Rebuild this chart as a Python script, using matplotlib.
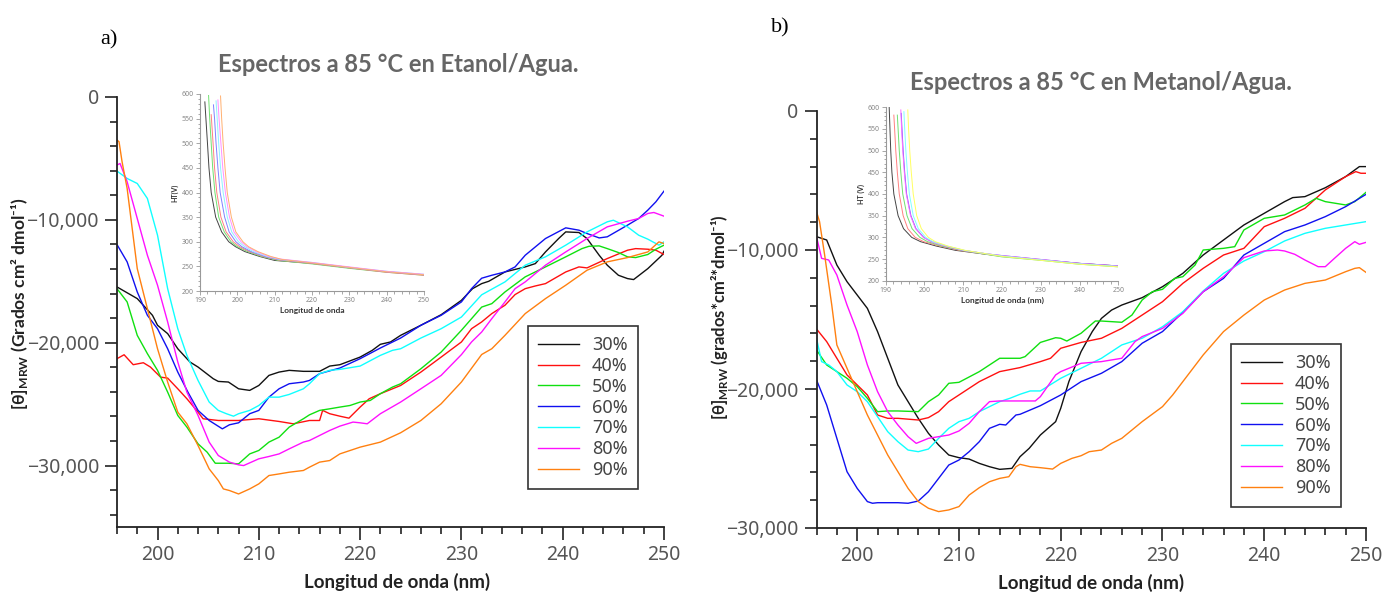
import matplotlib
matplotlib.use('Agg')
import matplotlib.pyplot as plt
from matplotlib.ticker import MultipleLocator, FuncFormatter

# ---------------- data: panel a (Etanol/Agua) ----------------
A30_X = [196, 198, 199.5, 200, 201, 202, 203.2, 204, 205.5, 206, 207, 208, 209.1, 210, 211, 212, 213, 214.4, 216, 217,
         218, 220, 221.2, 222, 223, 224, 226, 228, 230, 231.1, 232, 232.7, 234.3, 236.3, 237.3, 238.3, 239.6, 240.3,
         241.6, 242.4, 243.6, 244.4, 245.5, 246.4, 247, 248.4, 249.8, 250]
A30_Y = [-15460, -16410, -17770, -18580, -19260, -20490, -21570, -21980, -22930, -23150, -23200, -23750, -23880, -23480,
         -22660, -22390, -22250, -22330, -22330, -21900, -21790, -21170, -20620, -20130, -19940, -19400, -18580, -17720,
         -16550, -15600, -15190, -15000, -14240, -13830, -13560, -12610, -11520, -10980, -11030, -11520, -12880, -13690,
         -14510, -14780, -14860, -13970, -12880, -12550]
A40_X = [196, 196.7, 197.6, 198.6, 199.3, 200.3, 201, 202, 202.9, 204, 204.5, 206, 208, 210, 212, 213.4, 215, 216, 216.3,
         217, 218, 218.9, 220, 220.9, 222, 223.2, 224, 226, 228, 230, 231, 232, 233, 234.3, 235.3, 236.3, 237.3, 238.3,
         240.3, 241.6, 242.4, 244.4, 246.4, 247.2, 248.4, 249.2, 250]
A40_Y = [-21300, -20980, -21790, -21630, -21980, -22800, -22880, -23750, -24560, -25650, -26190, -26330, -26330, -26190,
         -26410, -26600, -26330, -26330, -25510, -25780, -25980, -26140, -25240, -24560, -24150, -23750, -23480, -22390,
         -21170, -19940, -18860, -18310, -17630, -16950, -16080, -15600, -15380, -15190, -14240, -13830, -13910, -13150,
         -12470, -12340, -12390, -12470, -12820]
A50_X = [196, 197, 198, 199, 200, 201, 202, 202.9, 204, 204.9, 205.7, 207, 208, 209.1, 210, 211, 212, 213, 214.4, 215,
         216, 217, 218, 219, 220, 221, 222, 223.2, 224, 226, 228, 230, 232, 233, 234.3, 236.3, 238.3, 240.3, 241.9,
         242.6, 243.6, 244.4, 245.5, 246.4, 247.2, 248.4, 249.2, 250]
A50_Y = [-15600, -16680, -19400, -20890, -22250, -24020, -25920, -26870, -28230, -28910, -29810, -29810, -29860, -29050,
         -28770, -28090, -27690, -26870, -26190, -25870, -25510, -25380, -25240, -25110, -24830, -24700, -24150, -23610,
         -23340, -22120, -20760, -18990, -17100, -16820, -15870, -14640, -13830, -13010, -12340, -12150, -12120, -12340,
         -12660, -13010, -13070, -12820, -12390, -12060]
A60_X = [196, 197, 198, 199, 200, 201, 202, 203, 204, 205.1, 206.4, 207.1, 208, 209.1, 210, 211, 212, 213, 214.4, 215,
         216, 218, 220, 222, 224, 226, 228, 230, 231, 232, 233, 234.3, 235.3, 236.3, 238.3, 240.3, 241.6, 242.4, 243.6,
         244.4, 246.4, 247.5, 248.4, 249.2, 250]
A60_Y = [-12010, -13420, -15870, -17770, -18860, -20490, -22390, -24020, -25510, -26330, -27010, -26680, -26520, -25780,
         -25510, -24430, -23750, -23340, -23200, -23070, -22520, -22060, -21300, -20430, -19620, -18580, -17770, -16680,
         -15600, -14750, -14510, -14240, -13830, -12880, -11520, -10650, -10840, -11110, -11470, -11380, -10430, -9890,
         -9210, -8530, -7660]
A70_X = [196, 197, 198, 199, 200, 201, 202, 202.9, 204, 205.1, 206, 206.8, 207.5, 208, 209.1, 210, 211, 212, 213, 214.4,
         215, 216, 217, 218, 220, 222, 223.2, 224, 226, 228, 230, 232, 234.3, 236.3, 238.3, 240.3, 242.4, 244.4, 245,
         246.4, 247.5, 248.4, 249.5, 250]
A70_Y = [-6030, -6630, -7040, -8260, -11250, -15600, -18860, -21030, -23070, -24830, -25510, -25780, -25980, -25780,
         -25510, -25110, -24430, -24430, -24210, -23750, -23340, -22520, -22250, -22170, -21900, -21030, -20620, -20490,
         -19620, -18860, -17910, -16100, -15050, -13690, -13010, -12060, -10980, -10160, -10030, -10570, -11250, -11570,
         -12060, -11790]
A80_X = [196, 196.3, 197, 198, 199, 200, 201, 202, 202.9, 204, 205.1, 206, 207.1, 208, 208.5, 210, 211, 212, 213, 214.4,
         215, 216, 217, 218, 219.3, 220, 220.7, 222, 224, 226, 228, 230, 231, 232, 233, 234.3, 235.3, 236.3, 238.3,
         240.3, 242.4, 244.4, 246.4, 247.5, 248.4, 249, 250]
A80_Y = [-5540, -5410, -6900, -9890, -12880, -15320, -18310, -21570, -24020, -25920, -28090, -29180, -29720, -29940,
         -30000, -29450, -29260, -29050, -28640, -28090, -27960, -27550, -27140, -26790, -26460, -26520, -26600, -25780,
         -24830, -23750, -22660, -20970, -19940, -19130, -18040, -16680, -15600, -15050, -13690, -12610, -11520, -10570,
         -10110, -9890, -9480, -9400, -9700]
A90_X = [196, 196.2, 196.5, 197, 198, 199, 200, 201, 202, 202.9, 204, 205.1, 206, 206.5, 207.1, 208, 209.1, 210, 211,
         212, 213, 214.4, 215, 216, 217, 218, 220, 222, 224, 226, 228, 230, 232, 233, 234.3, 236.3, 238.3, 240.3, 242.4,
         244.4, 246.4, 248.4, 249.5, 250]
A90_Y = [-3500, -3640, -5270, -7440, -13970, -17230, -20490, -23200, -25650, -26600, -28370, -30270, -31220, -31900,
         -32030, -32310, -31900, -31490, -30810, -30680, -30540, -30400, -30130, -29720, -29590, -29050, -28500, -28090,
         -27330, -26330, -24970, -23200, -20960, -20490, -19400, -17630, -16410, -15320, -14100, -13420, -13070, -12610,
         -11790, -11930]

# ---------------- data: panel b (Metanol/Agua) ----------------
B30_X = [196, 197, 198, 199, 200, 201, 202, 203, 204, 205, 206, 207, 208, 209, 210, 211, 212, 213, 214, 215.2, 216,
         216.9, 218, 219.5, 220, 220.8, 222, 223.1, 224, 225, 226, 228, 230, 232, 234, 236, 238, 240, 242, 242.8, 244,
         246, 248, 249.35, 250]
B30_Y = [-9040, -9280, -11080, -12280, -13240, -14200, -15870, -17790, -19710, -20910, -22110, -23190, -24030, -24750,
         -24940, -25040, -25350, -25590, -25780, -25710, -24870, -24270, -23310, -22350, -21390, -19470, -17310, -15870,
         -14920, -14320, -13960, -13430, -12640, -11680, -10360, -9280, -8200, -7360, -6520, -6230, -6160, -5520, -4720,
         -4000, -4000]
B40_X = [196, 197, 198, 199, 200, 201, 202, 203, 204, 206, 207, 208, 209, 210, 212, 214, 216, 218, 219, 220, 222, 224,
         226, 228, 230, 232, 234, 236, 238, 240, 242, 244, 246, 248, 249, 249.5, 250]
B40_Y = [-15680, -16590, -17790, -18990, -19710, -20430, -21870, -22110, -22110, -22230, -22060, -21630, -20910, -20430,
         -19470, -18750, -18460, -18030, -17790, -17070, -16650, -16350, -15640, -14680, -13720, -12400, -11320, -10360,
         -9880, -8320, -7720, -7000, -5680, -4720, -4360, -4480, -4480]
B50_X = [196, 197, 198, 199, 200, 201, 202, 203, 204, 206, 207, 208, 209, 210, 212, 214, 216, 216.5, 218, 219.5, 220,
         220.6, 222, 223.4, 224, 226, 227, 228, 229, 230, 231.2, 232, 233.2, 234, 236, 237.1, 238, 240, 242, 244, 245.1,
         246, 248, 248.9, 250]
B50_Y = [-17190, -18270, -18750, -19230, -19830, -20670, -21630, -21580, -21580, -21630, -20910, -20430, -19590, -19520,
         -18750, -17790, -17790, -17670, -16650, -16310, -16350, -16550, -15990, -15110, -15110, -15200, -14680, -13600,
         -13000, -12830, -12040, -11920, -11080, -10000, -9880, -9760, -8560, -7720, -7480, -6760, -6280, -6520, -6760,
         -6520, -5850]
B60_X = [196, 197, 198, 199, 200, 201, 201.5, 202, 204, 205, 206, 207, 208, 209, 210, 211, 212, 213, 214, 214.6, 215.6,
         216, 218, 220, 222, 224, 226, 228, 230, 232, 234, 236, 238, 240, 242, 244, 246, 248, 250]
B60_Y = [-19350, -21150, -23550, -25950, -27150, -28100, -28220, -28180, -28180, -28220, -28060, -27390, -26430, -25470,
         -25110, -24510, -23790, -22830, -22540, -22590, -21870, -21820, -21200, -20430, -19470, -18870, -18030, -16710,
         -15870, -14480, -13000, -12040, -10360, -9520, -8680, -8200, -7600, -6880, -6000]
B70_X = [196, 196.5, 197.2, 198, 199, 200, 201, 202, 203, 204, 205, 206, 207, 208, 209, 210, 211, 212, 214, 215, 216,
         217, 218, 220, 222, 224, 226, 228, 230, 232, 234, 236, 238, 240, 242, 244, 246, 248, 250]
B70_Y = [-16350, -18030, -18270, -18750, -19710, -20190, -20910, -21990, -23070, -23790, -24390, -24510, -24320, -23550,
         -22830, -22350, -22110, -21630, -20910, -20670, -20380, -20140, -20140, -19230, -18510, -17790, -16830, -16350,
         -15520, -14440, -12950, -11680, -10790, -10120, -9350, -8800, -8440, -8200, -7960]
B80_X = [196, 196.5, 197.2, 198, 199, 200, 201, 202, 203, 204, 205, 205.8, 207, 208, 209, 210, 211, 212, 213, 214, 216,
         217.5, 218, 219.5, 220, 222, 224, 226, 227.3, 228, 230, 232, 234, 236, 238, 240, 241.3, 242, 243, 244, 245.3,
         246, 246.9, 248, 248.9, 249.35, 250]
B80_Y = [-9040, -10600, -10720, -11800, -13960, -15870, -18270, -20190, -21630, -22590, -23430, -23910, -23550, -23430,
         -23310, -23020, -22470, -21630, -20910, -20860, -20860, -20860, -20550, -18990, -18750, -18150, -18030, -17790,
         -16590, -16230, -15640, -14560, -13000, -11920, -10550, -10070, -10000, -10070, -10310, -10720, -11200, -11200,
         -10600, -9880, -9400, -9590, -9450]
B90_X = [196, 196.3, 196.8, 197.5, 198, 199, 200, 201, 202, 203, 204, 205, 206, 207, 208, 209, 210, 211, 212, 213, 214,
         214.9, 215.6, 216, 217, 218, 219.2, 220, 221.1, 222, 222.8, 224, 225, 226, 228, 230, 231, 232, 234, 236, 238,
         240, 242, 244, 246, 248, 248.9, 249.35, 250]
B90_Y = [-7240, -7960, -10360, -13960, -16830, -18510, -20190, -21870, -23310, -24750, -25950, -27150, -28100, -28580,
         -28820, -28700, -28460, -27630, -27100, -26670, -26430, -26310, -25590, -25420, -25590, -25660, -25760, -25350,
         -24990, -24800, -24510, -24390, -23910, -23550, -22350, -21270, -20430, -19470, -17550, -15870, -14680, -13600,
         -12880, -12400, -12160, -11560, -11320, -11270, -11610]

# ---------------- inset data: HT (V) ----------------
IA30_X = [191.3, 192.0, 192.4, 193.0, 194.2, 195.8, 197.7, 199.5, 202, 206, 210, 220, 230, 240, 250]
IA30_Y = [584, 500, 450, 400, 350, 320, 300, 290, 280, 270, 262, 256, 247, 239, 233]
IA40_X = [193.0, 193.5, 193.9, 194.5, 195.6, 197.0, 198.9, 200.6, 203.3, 207, 211, 220, 230, 240, 250]
IA40_Y = [558, 500, 450, 400, 350, 320, 300, 290, 280, 270, 263, 256, 247, 238, 232]
IA50_X = [192.3, 192.6, 193.0, 193.4, 194.0, 195.0, 196.5, 198.3, 200, 202.8, 206.5, 211, 220, 230, 240, 250]
IA50_Y = [597, 550, 500, 450, 400, 350, 320, 300, 290, 280, 270, 262, 255, 246, 238, 232]
IA60_X = [193.6, 193.9, 194.3, 194.8, 195.4, 196.6, 197.8, 199.6, 201.2, 203.7, 207.5, 211, 220, 230, 240, 250]
IA60_Y = [578, 550, 500, 450, 400, 350, 320, 300, 290, 280, 270, 264, 257, 248, 239, 233]
IA70_X = [194.3, 194.6, 195.0, 195.5, 196.2, 197.3, 198.5, 200.3, 202, 204.3, 208, 211.5, 220, 230, 240, 250]
IA70_Y = [586, 550, 500, 450, 400, 350, 320, 300, 290, 280, 270, 264, 258, 248, 240, 234]
IA80_X = [194.8, 195.1, 195.6, 196.1, 196.8, 197.9, 199.1, 201, 202.6, 205, 208.5, 211.5, 220, 230, 240, 250]
IA80_Y = [588, 550, 500, 450, 400, 350, 320, 300, 290, 280, 270, 265, 258, 249, 240, 234]
IA90_X = [195.5, 195.8, 196.2, 196.7, 197.3, 198.4, 199.6, 201.5, 203, 205.5, 209, 212, 220, 230, 240, 250]
IA90_Y = [596, 550, 500, 450, 400, 350, 320, 300, 290, 280, 270, 264, 257, 248, 239, 233]

IB30_X = [190.9, 191.3, 191.6, 192.1, 193.2, 194.6, 196.7, 199, 203, 208, 215, 220, 230, 240, 250]
IB30_Y = [600, 500, 450, 400, 350, 320, 300, 290, 280, 270, 262, 257, 248, 240, 234]
IB40_X = [192.1, 192.3, 192.6, 193.0, 193.5, 194.5, 195.7, 197.6, 199.8, 204, 209, 215, 220, 230, 240, 250]
IB40_Y = [582, 550, 500, 450, 400, 350, 320, 300, 290, 280, 270, 262, 256, 248, 239, 233]
IB50_X = [193.0, 193.2, 193.5, 193.9, 194.4, 195.5, 196.8, 198.8, 200.8, 204.5, 209.5, 215, 220, 230, 240, 250]
IB50_Y = [582, 550, 500, 450, 400, 350, 320, 300, 290, 280, 270, 262, 255, 247, 238, 232]
IB60_X = [194.0, 194.2, 194.5, 194.9, 195.4, 196.5, 197.8, 199.8, 201.8, 205.5, 210, 216, 220, 230, 240, 250]
IB60_Y = [586, 550, 500, 450, 400, 350, 320, 300, 290, 280, 270, 262, 258, 249, 240, 234]
IB70_X = [194.7, 194.9, 195.2, 195.6, 196.1, 197.1, 198.4, 200.3, 202.2, 205.8, 210.3, 216, 220, 230, 240, 250]
IB70_Y = [590, 550, 500, 450, 400, 350, 320, 300, 290, 280, 270, 262, 257, 248, 239, 233]
IB80_X = [193.9, 194.1, 194.4, 194.8, 195.3, 196.4, 197.7, 199.7, 201.7, 205.3, 210, 216, 220, 230, 240, 250]
IB80_Y = [594, 550, 500, 450, 400, 350, 320, 300, 290, 280, 270, 262, 258, 249, 240, 234]
IB90_X = [195.7, 195.9, 196.2, 196.6, 197.1, 198.0, 199.2, 201, 202.8, 206, 210.5, 216, 220, 230, 240, 250]
IB90_Y = [594, 550, 500, 450, 400, 350, 320, 300, 290, 280, 270, 262, 256, 247, 238, 232]

LABELS = ['30%', '40%', '50%', '60%', '70%', '80%', '90%']
COLORS = ['#111111', '#ff1010', '#10e010', '#1010f0', '#10ffff', '#ff10ff', '#ff8010']
INSET_A_COLORS = ['#444444', '#ff8080', '#70e070', '#8080ff', '#90f0ff', '#ff90ff', '#ffb070']
INSET_B_COLORS = ['#444444', '#ff8080', '#70e070', '#6a50ff', '#80ffff', '#ff70ff', '#ffff60']

# ---------------- figure ----------------
W, H = 1393, 593
REG = ['Noto Sans', 'DejaVu Sans']
BOLD = ['Lato', 'DejaVu Sans']
plt.rcParams['font.family'] = REG
plt.rcParams['mathtext.fontset'] = 'custom'
plt.rcParams['mathtext.rm'] = 'Lato'
plt.rcParams['mathtext.bf'] = 'Lato:bold'
fig = plt.figure(figsize=(W / 100, H / 100), dpi=100)
fig.patch.set_facecolor('white')


def fx(px):
    return px / W


def fy(py):
    return 1 - py / H


def box(l, t, r, b):
    return [fx(l), fy(b), fx(r) - fx(l), fy(t) - fy(b)]


def fmt(v, p):
    if abs(v) < 1:
        return '0'
    return f"{v:,.0f}".replace('-', '\u2212')


def style_main(ax, ylo):
    for s in ['top', 'right']:
        ax.spines[s].set_visible(False)
    for s in ['left', 'bottom']:
        ax.spines[s].set_color('#222222')
        ax.spines[s].set_linewidth(1.3)
    ax.set_xlim(196, 250)
    ax.set_ylim(ylo, 0)
    ax.xaxis.set_major_locator(MultipleLocator(10))
    ax.xaxis.set_minor_locator(MultipleLocator(2))
    ax.yaxis.set_major_locator(MultipleLocator(10000))
    ax.yaxis.set_minor_locator(MultipleLocator(2000))
    ax.yaxis.set_major_formatter(FuncFormatter(fmt))
    ax.tick_params(which='both', direction='out', color='#222222', width=1.2)
    ax.tick_params(which='major', length=9, labelsize=14, labelcolor='#555555', pad=4)
    ax.tick_params(which='minor', length=5)


def style_inset(ax, xlabel, ylabel):
    for s in ['top', 'right']:
        ax.spines[s].set_visible(False)
    for s in ['left', 'bottom']:
        ax.spines[s].set_color('#999999')
        ax.spines[s].set_linewidth(0.8)
    ax.set_xlim(190, 250)
    ax.set_ylim(200, 600)
    ax.xaxis.set_major_locator(MultipleLocator(10))
    ax.xaxis.set_minor_locator(MultipleLocator(2))
    ax.yaxis.set_major_locator(MultipleLocator(50))
    ax.yaxis.set_minor_locator(MultipleLocator(10))
    ax.tick_params(which='both', direction='out', color='#999999', width=0.6)
    ax.tick_params(which='major', length=3, labelsize=5, labelcolor='#888888', pad=1.5)
    ax.tick_params(which='minor', length=1.8)
    ax.set_xlabel(xlabel, fontsize=6, fontweight='bold', family=BOLD, color='#333333', labelpad=2)
    ax.set_ylabel(ylabel, fontsize=5, fontweight='bold', family=BOLD, color='#333333', labelpad=2)


# ---- panel a ----
axa = fig.add_axes(box(117, 97, 664, 527))
style_main(axa, -35000)
for xs, ys, c, lab in zip([A30_X, A40_X, A50_X, A60_X, A70_X, A80_X, A90_X],
                          [A30_Y, A40_Y, A50_Y, A60_Y, A70_Y, A80_Y, A90_Y], COLORS, LABELS):
    axa.plot(xs, ys, color=c, lw=1.0, label=lab)

# ---- panel b ----
axb = fig.add_axes(box(816.5, 111, 1366, 528))
style_main(axb, -30000)
for xs, ys, c, lab in zip([B30_X, B40_X, B50_X, B60_X, B70_X, B80_X, B90_X],
                          [B30_Y, B40_Y, B50_Y, B60_Y, B70_Y, B80_Y, B90_Y], COLORS, LABELS):
    axb.plot(xs, ys, color=c, lw=1.0, label=lab)


def add_legend(ax, left_px, top_px):
    leg = ax.legend(loc='upper left', bbox_to_anchor=(fx(left_px), fy(top_px)),
                    bbox_transform=fig.transFigure, frameon=True, fancybox=False,
                    edgecolor='#333333', framealpha=1, fontsize=13, handlelength=2.3,
                    handletextpad=0.7, labelspacing=0.16, borderpad=0.55, borderaxespad=0)
    leg.get_frame().set_linewidth(1.2)
    for t in leg.get_texts():
        t.set_color('#444444')


add_legend(axa, 528, 326)
add_legend(axb, 1231, 344)

# ---- insets ----
ina = fig.add_axes(box(200, 94, 424, 291))
style_inset(ina, 'Longitud de onda', 'HT(V)')
for xs, ys, c in zip([IA30_X, IA50_X, IA40_X, IA60_X, IA70_X, IA80_X, IA90_X],
                     [IA30_Y, IA50_Y, IA40_Y, IA60_Y, IA70_Y, IA80_Y, IA90_Y],
                     [INSET_A_COLORS[0], INSET_A_COLORS[2], INSET_A_COLORS[1], INSET_A_COLORS[3],
                      INSET_A_COLORS[4], INSET_A_COLORS[5], INSET_A_COLORS[6]]):
    ina.plot(xs, ys, color=c, lw=0.7)

inb = fig.add_axes(box(885.7, 107.3, 1118.3, 280.7))
style_inset(inb, 'Longitud de onda (nm)', 'HT (V)')
for xs, ys, c in zip([IB30_X, IB40_X, IB50_X, IB60_X, IB80_X, IB70_X, IB90_X],
                     [IB30_Y, IB40_Y, IB50_Y, IB60_Y, IB80_Y, IB70_Y, IB90_Y],
                     [INSET_B_COLORS[0], INSET_B_COLORS[1], INSET_B_COLORS[2], INSET_B_COLORS[3],
                      INSET_B_COLORS[5], INSET_B_COLORS[4], INSET_B_COLORS[6]]):
    inb.plot(xs, ys, color=c, lw=0.7)

# ---- texts ----
fig.text(fx(398), fy(65), 'Espectros a 85 °C en Etanol/Agua.', ha='center', va='center',
         fontsize=17, fontweight='bold', family=BOLD, color='#666666')
fig.text(fx(1101), fy(82), 'Espectros a 85 °C en Metanol/Agua.', ha='center', va='center',
         fontsize=17, fontweight='bold', family=BOLD, color='#666666')

fig.text(fx(397), fy(582), 'Longitud de onda (nm)', ha='center', va='center',
         fontsize=13.5, fontweight='bold', family=BOLD, color='#222222')
fig.text(fx(1091), fy(583), 'Longitud de onda (nm)', ha='center', va='center',
         fontsize=13.5, fontweight='bold', family=BOLD, color='#222222')

fig.text(fx(20), fy(304), '[θ]$_{\\mathbf{MRW}}$ (Grados cm² dmol⁻¹)', ha='center', va='center',
         rotation=90, fontsize=12.5, fontweight='bold', family=BOLD, color='#222222')
fig.text(fx(720), fy(317), '[θ]$_{\\mathbf{MRW}}$ (grados*cm²*dmol⁻¹)', ha='center', va='center',
         rotation=90, fontsize=12, fontweight='bold', family=BOLD, color='#222222')

fig.text(fx(109), fy(40), 'a)', ha='center', va='center', fontsize=16,
         family=['Liberation Serif', 'DejaVu Serif'], color='black')
fig.text(fx(780), fy(28), 'b)', ha='center', va='center', fontsize=16,
         family=['Liberation Serif', 'DejaVu Serif'], color='black')

fig.savefig('out.png', dpi=100, facecolor='white')
